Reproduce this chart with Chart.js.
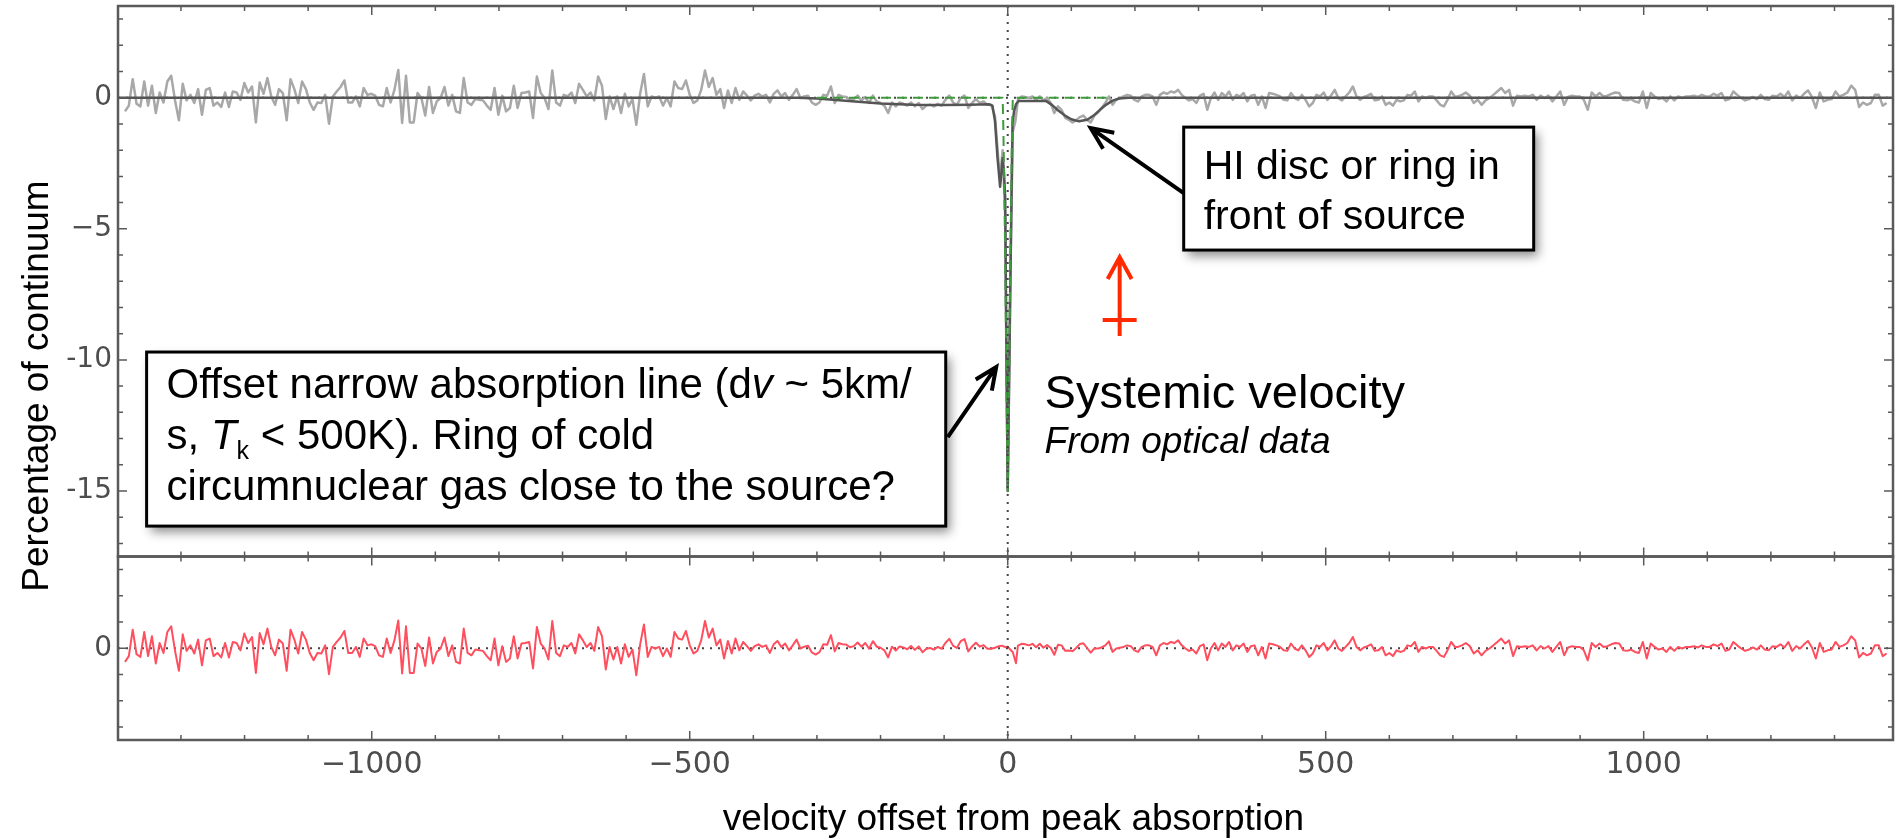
<!DOCTYPE html>
<html>
<head>
<meta charset="utf-8">
<title>HI absorption</title>
<script src="https://cdn.jsdelivr.net/npm/chart.js@4.4.1/dist/chart.umd.min.js"></script>
<style>
    body { margin: 0; background: #fff; }
    #chart_box { width: 1895px; height: 839px; }
</style>
</head>
<body>
<div id="chart_box"><canvas id="grafica_hi"></canvas></div>
<script>
// Observed spectrum (% of continuum). Every block covers a velocity range
// (km/s) and lists the channels from left to right.
var velA = [-1388, -698];
var specA = [-0.52, -0.30, 0.71, -0.23, -0.33, 0.62, -0.30, 0.46, -0.58, 0.20,
    -0.18, 0.62, 0.84, -0.10, -0.86, 0.53, -0.10, 0.11, -0.20, 0.33,
    -0.65, 0.30, 0.37, -0.30, -0.18, -0.35, 0.20, -0.35, 0.24, 0.20,
    -0.08, 0.56, 0.20, 0.43, -0.94, 0.58, 0.15, 0.75, 0.05, -0.27,
    0.33, 0.18, -0.86, 0.71, 0.33, -0.20, 0.62, 0.33, -0.18, -0.46,
    -0.18, -0.20, 0.11, -0.99, 0.05, 0.24, 0.41, 0.66, -0.18, -0.18,
    0.05, -0.33, 0.37, 0.11, 0.15, 0.08, -0.27, -0.33, 0.37, -0.18,
    0.30, 1.06, -0.96, 0.84, -0.94, -0.94, 0.18, -0.01, -0.68, 0.41,
    -0.58, -0.14, -0.01, 0.41, -0.30, 0.11, -0.52, -0.58, 0.75, -0.18,
    -0.27, -0.05, -0.08, -0.10, -0.30, -0.46, 0.37, -0.65, 0.08, -0.52,
    -0.39, 0.46, -0.39, 0.18, 0.20, 0.24, -0.77, 0.81, 0.18, -0.01,
    -0.43, 1.04, -0.18, -0.30, 0.11];
var velB = [-692, -26];
var specB = [0.05, 0.20, -0.20, 0.53, 0.30, 0.05, 0.20, -0.10, 0.81, 0.46,
    -0.81, 0.05, -0.43, 0.05, -0.58, 0.15, -0.33, -0.05, -1.03, 0.15,
    0.91, -0.33, 0.05, -0.01, 0.05, -0.30, -0.01, -0.33, 0.62, 0.37,
    0.33, 0.66, 0.11, -0.20, -0.10, 0.30, 1.04, 0.41, 0.75, 0.11,
    0.33, -0.39, 0.28, -0.20, 0.37, -0.08, 0.24, 0.08, -0.10, 0.08,
    0.15, 0.05, 0.11, -0.18, 0.15, 0.28, 0.05, 0.18, -0.08, 0.11,
    0.33, -0.01, 0.05, 0.08, -0.18, -0.27, -0.18, 0.11, 0.08, 0.43,
    -0.20, 0.11, 0.05, 0.03, -0.08, -0.05, 0.08, -0.10, 0.03, -0.20,
    0.08, -0.14, -0.20, -0.30, -0.58, -0.18, -0.33, -0.18, -0.23, -0.30,
    -0.18, -0.33, -0.20, -0.43, -0.30, -0.27, -0.33, -0.23, -0.30, -0.08,
    0.08, -0.18, -0.27, -0.01, 0.08, -0.39, -0.20, -0.05, -0.20, -0.14,
    -0.27, -0.27];
var velCentre = [-20, -14, -11, -8, -4, 0, 4, 8, 12];
var specCentre = [-0.7, -2.6, -2.8, -2.0, -4.5, -14.9, -7.0, -1.3, -0.9];
var velC = [16, 703];
var specC = [-0.08, 0.05, 0.03, -0.01, 0.05, -0.08, 0.05, -0.10, -0.01, -0.20,
    -0.58, -0.33, -0.46, -0.77, -0.84, -0.94, -0.86, -0.74, -0.68, -0.84,
    -0.94, -0.68, -0.56, -0.39, -0.20, 0.05, -0.27, -0.08, -0.01, 0.05,
    0.11, 0.08, -0.08, -0.14, 0.05, 0.11, 0.11, 0.05, -0.27, 0.11,
    0.20, 0.15, 0.24, 0.20, 0.30, 0.11, -0.01, -0.10, -0.05, -0.20,
    0.08, 0.15, -0.46, -0.01, 0.20, -0.08, 0.18, 0.05, 0.24, -0.08,
    0.11, 0.05, 0.18, -0.14, 0.08, 0.11, -0.27, 0.05, -0.39, 0.18,
    0.15, 0.11, 0.05, -0.08, -0.10, 0.18, -0.01, -0.08, 0.11, -0.08,
    -0.33, -0.20, 0.11, 0.05, 0.20, -0.08, 0.08, 0.30, -0.01, -0.10,
    0.05, 0.20, 0.43, 0.05, -0.08, 0.03, 0.08, 0.15, -0.10, -0.08,
    0.05, -0.27, -0.18, -0.30, -0.08, -0.14, -0.10, 0.11, 0.08, 0.24,
    -0.14, 0.05, -0.01, 0.05, 0.05, -0.10, -0.27, -0.33, -0.08, 0.24, 0.05];
var velD = [708, 1382];
var specD = [0.05, 0.11, 0.20, 0.08, -0.20, -0.08, -0.27, -0.10, -0.01, 0.11,
    0.24, 0.37, 0.18, 0.30, -0.30, 0.08, 0.05, 0.08, 0.05, 0.11,
    -0.08, 0.08, -0.01, 0.08, -0.14, 0.05, 0.24, -0.27, 0.03, 0.08,
    0.05, 0.05, -0.08, -0.46, 0.20, 0.05, 0.18, 0.05, 0.08, 0.15,
    0.20, 0.18, -0.08, -0.10, -0.05, -0.14, -0.18, 0.24, -0.39, 0.18,
    0.05, -0.05, -0.01, -0.14, 0.05, -0.10, 0.05, -0.01, 0.05, 0.05,
    0.08, 0.03, 0.11, 0.05, 0.05, 0.15, 0.08, 0.18, -0.10, -0.05,
    0.24, 0.11, -0.01, -0.10, -0.05, 0.03, -0.05, 0.11, -0.05, -0.08,
    0.08, 0.05, 0.15, 0.03, 0.24, -0.10, 0.08, -0.01, 0.15, 0.28,
    0.03, -0.39, 0.20, -0.14, -0.08, -0.05, 0.24, 0.05, 0.11, 0.20,
    0.46, 0.30, -0.35, -0.18, -0.27, -0.20, 0.11, 0.11, -0.30, -0.20];

// Residuals (data - fit). Where the fit is flat at zero they are the data itself.
var residA = specA;
var residB = [0.05, 0.20, -0.20, 0.53, 0.30, 0.05, 0.20, -0.10, 0.81, 0.46,
    -0.81, 0.05, -0.43, 0.05, -0.58, 0.15, -0.33, -0.05, -1.03, 0.15,
    0.91, -0.33, 0.05, -0.01, 0.05, -0.30, -0.01, -0.33, 0.62, 0.37,
    0.33, 0.66, 0.11, -0.20, -0.10, 0.30, 1.04, 0.41, 0.75, 0.11,
    0.33, -0.39, 0.28, -0.20, 0.37, -0.08, 0.24, 0.08, -0.10, 0.08,
    0.15, 0.05, 0.11, -0.18, 0.15, 0.28, 0.05, 0.18, -0.08, 0.11,
    0.33, -0.01, 0.06, 0.10, -0.16, -0.24, -0.15, 0.15, 0.13, 0.50,
    -0.12, 0.20, 0.15, 0.14, 0.04, 0.08, 0.22, 0.06, 0.20, -0.02,
    0.27, 0.06, 0.02, -0.08, -0.35, 0.06, -0.09, 0.07, 0.03, -0.04,
    0.09, -0.06, 0.07, -0.15, -0.02, 0.01, -0.05, 0.05, -0.02, 0.20,
    0.36, 0.10, 0.01, 0.27, 0.35, -0.12, 0.07, 0.21, 0.06, 0.12,
    -0.02, -0.02];
var velResCentre = [-20, -14, -9, -4, 0, 4, 8, 13];
var residCentre = [0.02, 0.08, 0.10, 0.04, 0.06, -0.05, -0.15, -0.57];
var residC = [0.10, 0.17, 0.15, 0.11, 0.17, 0.04, 0.17, 0.02, 0.12, 0.02,
    -0.25, 0.13, 0.11, -0.10, -0.09, -0.11, 0.01, 0.16, 0.19, 0.01,
    -0.17, -0.01, -0.01, 0.03, 0.11, 0.26, -0.14, -0.01, 0.02, 0.05,
    0.11, 0.08, -0.08, -0.14, 0.05, 0.11, 0.11, 0.05, -0.27, 0.11,
    0.20, 0.15, 0.24, 0.20, 0.30, 0.11, -0.01, -0.10, -0.05, -0.20,
    0.08, 0.15, -0.46, -0.01, 0.20, -0.08, 0.18, 0.05, 0.24, -0.08,
    0.11, 0.05, 0.18, -0.14, 0.08, 0.11, -0.27, 0.05, -0.39, 0.18,
    0.15, 0.11, 0.05, -0.08, -0.10, 0.18, -0.01, -0.08, 0.11, -0.08,
    -0.33, -0.20, 0.11, 0.05, 0.20, -0.08, 0.08, 0.30, -0.01, -0.10,
    0.05, 0.20, 0.43, 0.05, -0.08, 0.03, 0.08, 0.15, -0.10, -0.08,
    0.05, -0.27, -0.18, -0.30, -0.08, -0.14, -0.10, 0.11, 0.08, 0.24,
    -0.14, 0.05, -0.01, 0.05, 0.05, -0.10, -0.27, -0.33, -0.08, 0.24, 0.05];
var residD = specD;

// Gaussian fit (total) and the narrow component.
var fitVel = [-1399, -330, -300, -250, -200, -150, -100, -60, -30, -24,
    -20, -16, -12, -10, -8, -6, -4, -2, 0, 3,
    5, 7.5, 10, 13, 17, 60, 70, 80, 90, 100,
    112, 125, 135, 145, 155, 165, 175, 190, 1392];
var fitVal = [0, 0, -0.03, -0.12, -0.22, -0.27, -0.28, -0.27, -0.25, -0.3,
    -0.9, -2.3, -3.4, -2.9, -2.3, -2.8, -3.8, -10, -15, -9.3,
    -5.5, -1.0, -0.5, -0.25, -0.12, -0.12, -0.28, -0.5, -0.68, -0.82,
    -0.9, -0.84, -0.68, -0.46, -0.26, -0.11, -0.03, 0, 0];
var compVel = [-300, -8, -7, -6, -4, -2, 0, 2, 4, 6, 7, 8, 157];
var compVal = [0, 0, -1, -2.5, -6, -11, -15, -11, -6.5, -2.5, -1, 0, 0];

// Systemic velocity from optical data (upward limit marker).
var sysVel = 176;
var sysLevel = -8.48;
var sysTop = -6.08;
var sysBottom = -9.09;

// Axes
var xRange = [-1399, 1392];
var xMajor = [-1000, -500, 0, 500, 1000];
var xLabels = ['\u22121000', '\u2212500', '0', '500', '1000'];
var yTopRange = [-17.5, 3.5];
var yTopMajor = [-15, -10, -5, 0];
var yTopLabels = ['-15', '-10', '\u22125', '0'];
var yBotRange = [-3.5, 3.5];
var yBotMajor = [0];
var yBotLabels = ['0'];
var xTitle = 'velocity offset from peak absorption';
var yTitle = 'Percentage of continuum';

var textFont = '"Liberation Sans", Arial, Helvetica, sans-serif';

// Annotation boxes, positioned in data units of the top panel.
var boxes = [
    { v0: -1354, v1: -97.5, u0: -9.7, u1: -16.34, size: 42, pad: 20, base: [46, 97, 148],
      lines: [
          [['Offset narrow absorption line (d', 'n'], ['v', 'i'], [' ~ 5km/', 'n']],
          [['s, ', 'n'], ['T', 'i'], ['k', 'sub'], [' < 500K). Ring of cold', 'n']],
          [['circumnuclear gas close to the source?', 'n']]
      ] },
    { v0: 276.7, v1: 827, u0: -1.12, u1: -5.81, size: 41, pad: 20, base: [52, 102],
      lines: [
          [['HI disc or ring in', 'n']],
          [['front of source', 'n']]
      ] }
];
var arrows = [
    { from: [-94.3, -12.95], to: [-18.1, -10.27] },
    { from: [276.7, -3.64], to: [130.5, -1.16] }
];
var sysText = { v: 58, u: -11.84, title: 'Systemic velocity', note: 'From optical data', noteU: -13.55 };

// Builds {x, y} points for a block whose channels are evenly spread.
function spread(range, vals) {
    var step = (range[1] - range[0]) / (vals.length - 1);
    return vals.map(function (y, i) { return { x: range[0] + i * step, y: y }; });
}

function pairs(xs, ys) {
    return xs.map(function (x, i) { return { x: x, y: ys[i] }; });
}

var spectrum = [].concat(spread(velA, specA), spread(velB, specB),
    pairs(velCentre, specCentre), spread(velC, specC), spread(velD, specD));
var residual = [].concat(spread(velA, residA), spread(velB, residB),
    pairs(velResCentre, residCentre), spread(velC, residC), spread(velD, residD));
var fit = pairs(fitVel, fitVal);
var component = pairs(compVel, compVal);

function drawArrow(ctx, x0, y0, x1, y1, head, spread) {
    var a = Math.atan2(y1 - y0, x1 - x0);
    ctx.beginPath();
    ctx.moveTo(x0, y0);
    ctx.lineTo(x1, y1);
    ctx.moveTo(x1 - head * Math.cos(a - spread), y1 - head * Math.sin(a - spread));
    ctx.lineTo(x1, y1);
    ctx.lineTo(x1 - head * Math.cos(a + spread), y1 - head * Math.sin(a + spread));
    ctx.stroke();
}

// Draws a line made of runs: normal, italic or subscript.
function drawRuns(ctx, runs, x, y, size) {
    runs.forEach(function (r) {
        var s = r[1] === 'sub' ? Math.round(size * 0.6) : size;
        ctx.font = (r[1] === 'i' ? 'italic ' : '') + s + 'px ' + textFont;
        ctx.fillText(r[0], x, r[1] === 'sub' ? y + size * 0.24 : y);
        x += ctx.measureText(r[0]).width;
    });
}

// Keeps the panels flush with the layout padding (no room kept for labels).
function noPadding(s) {
    s.paddingTop = 0;
    s.paddingBottom = 0;
}

// Dotted zero lines under the data.
var zeroLines = {
    id: 'zeroLines',
    beforeDatasetsDraw: function (chart) {
        var ctx = chart.ctx;
        var area = chart.chartArea;
        ctx.save();
        ctx.setLineDash([2, 6]);
        ctx.strokeStyle = '#444';
        ctx.lineWidth = 2;
        ctx.beginPath();
        [chart.scales.y, chart.scales.y2].forEach(function (s) {
            var q = s.getPixelForValue(0);
            ctx.moveTo(area.left, q);
            ctx.lineTo(area.right, q);
        });
        ctx.stroke();
        ctx.restore();
    }
};

// Frames, inward ticks, vertical zero line and the systemic marker.
var frame = {
    id: 'frame',
    afterDatasetsDraw: function (chart) {
        var ctx = chart.ctx;
        var area = chart.chartArea;
        var x = chart.scales.x;
        var y = chart.scales.y;
        var panels = [y, chart.scales.y2];
        ctx.save();

        var x0 = x.getPixelForValue(0);
        ctx.setLineDash([2, 6]);
        ctx.strokeStyle = '#444';
        ctx.lineWidth = 2;
        ctx.beginPath();
        ctx.moveTo(x0, area.top);
        ctx.lineTo(x0, area.bottom);
        ctx.stroke();
        ctx.setLineDash([]);

        var sx = x.getPixelForValue(sysVel);
        var cap = y.getPixelForValue(sysLevel);
        ctx.strokeStyle = '#ff2a00';
        ctx.lineWidth = 4;
        drawArrow(ctx, sx, y.getPixelForValue(sysBottom), sx, y.getPixelForValue(sysTop), 25, 0.5);
        ctx.beginPath();
        ctx.moveTo(sx - 17, cap);
        ctx.lineTo(sx + 17, cap);
        ctx.stroke();

        ctx.strokeStyle = '#5a5a5a';
        panels.forEach(function (s, k) {
            var major = k === 0 ? yTopMajor : yBotMajor;
            ctx.lineWidth = 2.5;
            ctx.strokeRect(area.left, s.top, area.right - area.left, s.bottom - s.top);
            ctx.lineWidth = 1.5;
            ctx.beginPath();
            for (var v = Math.ceil(x.min / 100) * 100; v <= x.max; v += 100) {
                var len = v % 500 === 0 ? 9 : 5;
                var p = x.getPixelForValue(v);
                ctx.moveTo(p, s.top);
                ctx.lineTo(p, s.top + len);
                ctx.moveTo(p, s.bottom);
                ctx.lineTo(p, s.bottom - len);
            }
            for (var u = Math.ceil(s.min); u <= s.max; u++) {
                var l2 = major.indexOf(u) >= 0 ? 9 : 5;
                var q = s.getPixelForValue(u);
                ctx.moveTo(area.left, q);
                ctx.lineTo(area.left + l2, q);
                ctx.moveTo(area.right, q);
                ctx.lineTo(area.right - l2, q);
            }
            ctx.stroke();
        });
        ctx.restore();
    }
};

// Text boxes, arrows and axis titles.
var notes = {
    id: 'notes',
    afterDraw: function (chart) {
        var ctx = chart.ctx;
        var x = chart.scales.x;
        var y = chart.scales.y;
        ctx.save();

        boxes.forEach(function (b) {
            var l = x.getPixelForValue(b.v0);
            var r = x.getPixelForValue(b.v1);
            var t = y.getPixelForValue(b.u0);
            var btm = y.getPixelForValue(b.u1);
            ctx.save();
            ctx.shadowColor = 'rgba(0, 0, 0, 0.45)';
            ctx.shadowBlur = 10;
            ctx.shadowOffsetX = 4;
            ctx.shadowOffsetY = 6;
            ctx.fillStyle = '#fff';
            ctx.fillRect(l, t, r - l, btm - t);
            ctx.restore();
            ctx.lineWidth = 3;
            ctx.strokeStyle = '#000';
            ctx.strokeRect(l, t, r - l, btm - t);
            ctx.fillStyle = '#000';
            ctx.textAlign = 'left';
            ctx.textBaseline = 'alphabetic';
            b.lines.forEach(function (runs, i) {
                drawRuns(ctx, runs, l + b.pad, t + b.base[i], b.size);
            });
        });

        ctx.strokeStyle = '#000';
        ctx.lineWidth = 4;
        arrows.forEach(function (a) {
            drawArrow(ctx, x.getPixelForValue(a.from[0]), y.getPixelForValue(a.from[1]),
                x.getPixelForValue(a.to[0]), y.getPixelForValue(a.to[1]), 24, 0.42);
        });

        ctx.fillStyle = '#000';
        ctx.textAlign = 'left';
        ctx.font = '47px ' + textFont;
        ctx.fillText(sysText.title, x.getPixelForValue(sysText.v), y.getPixelForValue(sysText.u));
        ctx.font = 'italic 37px ' + textFont;
        ctx.fillText(sysText.note, x.getPixelForValue(sysText.v), y.getPixelForValue(sysText.noteU));

        ctx.font = '37px ' + textFont;
        ctx.textAlign = 'center';
        ctx.fillText(xTitle, (chart.chartArea.left + chart.chartArea.right) / 2 + 8, chart.height - 9);
        ctx.translate(48, 386);
        ctx.rotate(-Math.PI / 2);
        ctx.fillText(yTitle, 0, 0);
        ctx.restore();
    }
};

function tickOptions(size, list, labels) {
    return {
        autoSkip: false,
        maxRotation: 0,
        padding: 6,
        color: '#4d4d4d',
        font: { family: 'DejaVu Sans', size: size },
        callback: function (value) {
            var i = list.indexOf(value);
            return i >= 0 ? labels[i] : '';
        }
    };
}

var chart = new Chart(document.getElementById('grafica_hi'), {
    type: 'line',
    data: {
        datasets: [
            { label: 'Residuals', data: residual, yAxisID: 'y2', borderColor: '#ff4f5e', borderWidth: 2, order: 0 },
            { label: 'Narrow component', data: component, yAxisID: 'y', borderColor: '#3d9a3d', borderWidth: 2, borderDash: [10, 6], order: 1 },
            { label: 'Fit', data: fit, yAxisID: 'y', borderColor: '#555555', borderWidth: 2.5, order: 2 },
            { label: 'Data', data: spectrum, yAxisID: 'y', borderColor: '#a8a8a8', borderWidth: 2.5, order: 3 }
        ]
    },
    options: {
        responsive: true,
        maintainAspectRatio: false,
        animation: false,
        devicePixelRatio: 1,
        layout: { padding: { top: 6, right: 2, bottom: 0, left: 0 } },
        elements: {
            point: { radius: 0 },
            line: { tension: 0, borderJoinStyle: 'round' }
        },
        plugins: { legend: { display: false }, tooltip: { enabled: false } },
        scales: {
            x: {
                type: 'linear',
                min: xRange[0],
                max: xRange[1],
                grid: { display: false, drawTicks: false },
                border: { display: false },
                afterBuildTicks: function (s) { s.ticks = xMajor.map(function (v) { return { value: v }; }); },
                afterFit: function (s) { s.height = 99; s.paddingLeft = 0; s.paddingRight = 0; },
                ticks: Object.assign(tickOptions(30, xMajor, xLabels), { padding: 7 })
            },
            // the residual panel is listed first so that it ends up below
            y2: {
                position: 'left',
                stack: 'panels',
                stackWeight: 1,
                min: yBotRange[0],
                max: yBotRange[1],
                grid: { display: false, drawTicks: false },
                border: { display: false },
                afterBuildTicks: function (s) { s.ticks = yBotMajor.map(function (v) { return { value: v }; }); },
                afterFit: function (s) { s.width = 118; noPadding(s); },
                ticks: tickOptions(28, yBotMajor, yBotLabels)
            },
            y: {
                position: 'left',
                stack: 'panels',
                stackWeight: 3,
                min: yTopRange[0],
                max: yTopRange[1],
                grid: { display: false, drawTicks: false },
                border: { display: false },
                afterBuildTicks: function (s) { s.ticks = yTopMajor.map(function (v) { return { value: v }; }); },
                afterFit: function (s) { s.width = 118; noPadding(s); },
                ticks: tickOptions(28, yTopMajor, yTopLabels)
            }
        }
    },
    plugins: [zeroLines, frame, notes]
});
</script>
</body>
</html>
